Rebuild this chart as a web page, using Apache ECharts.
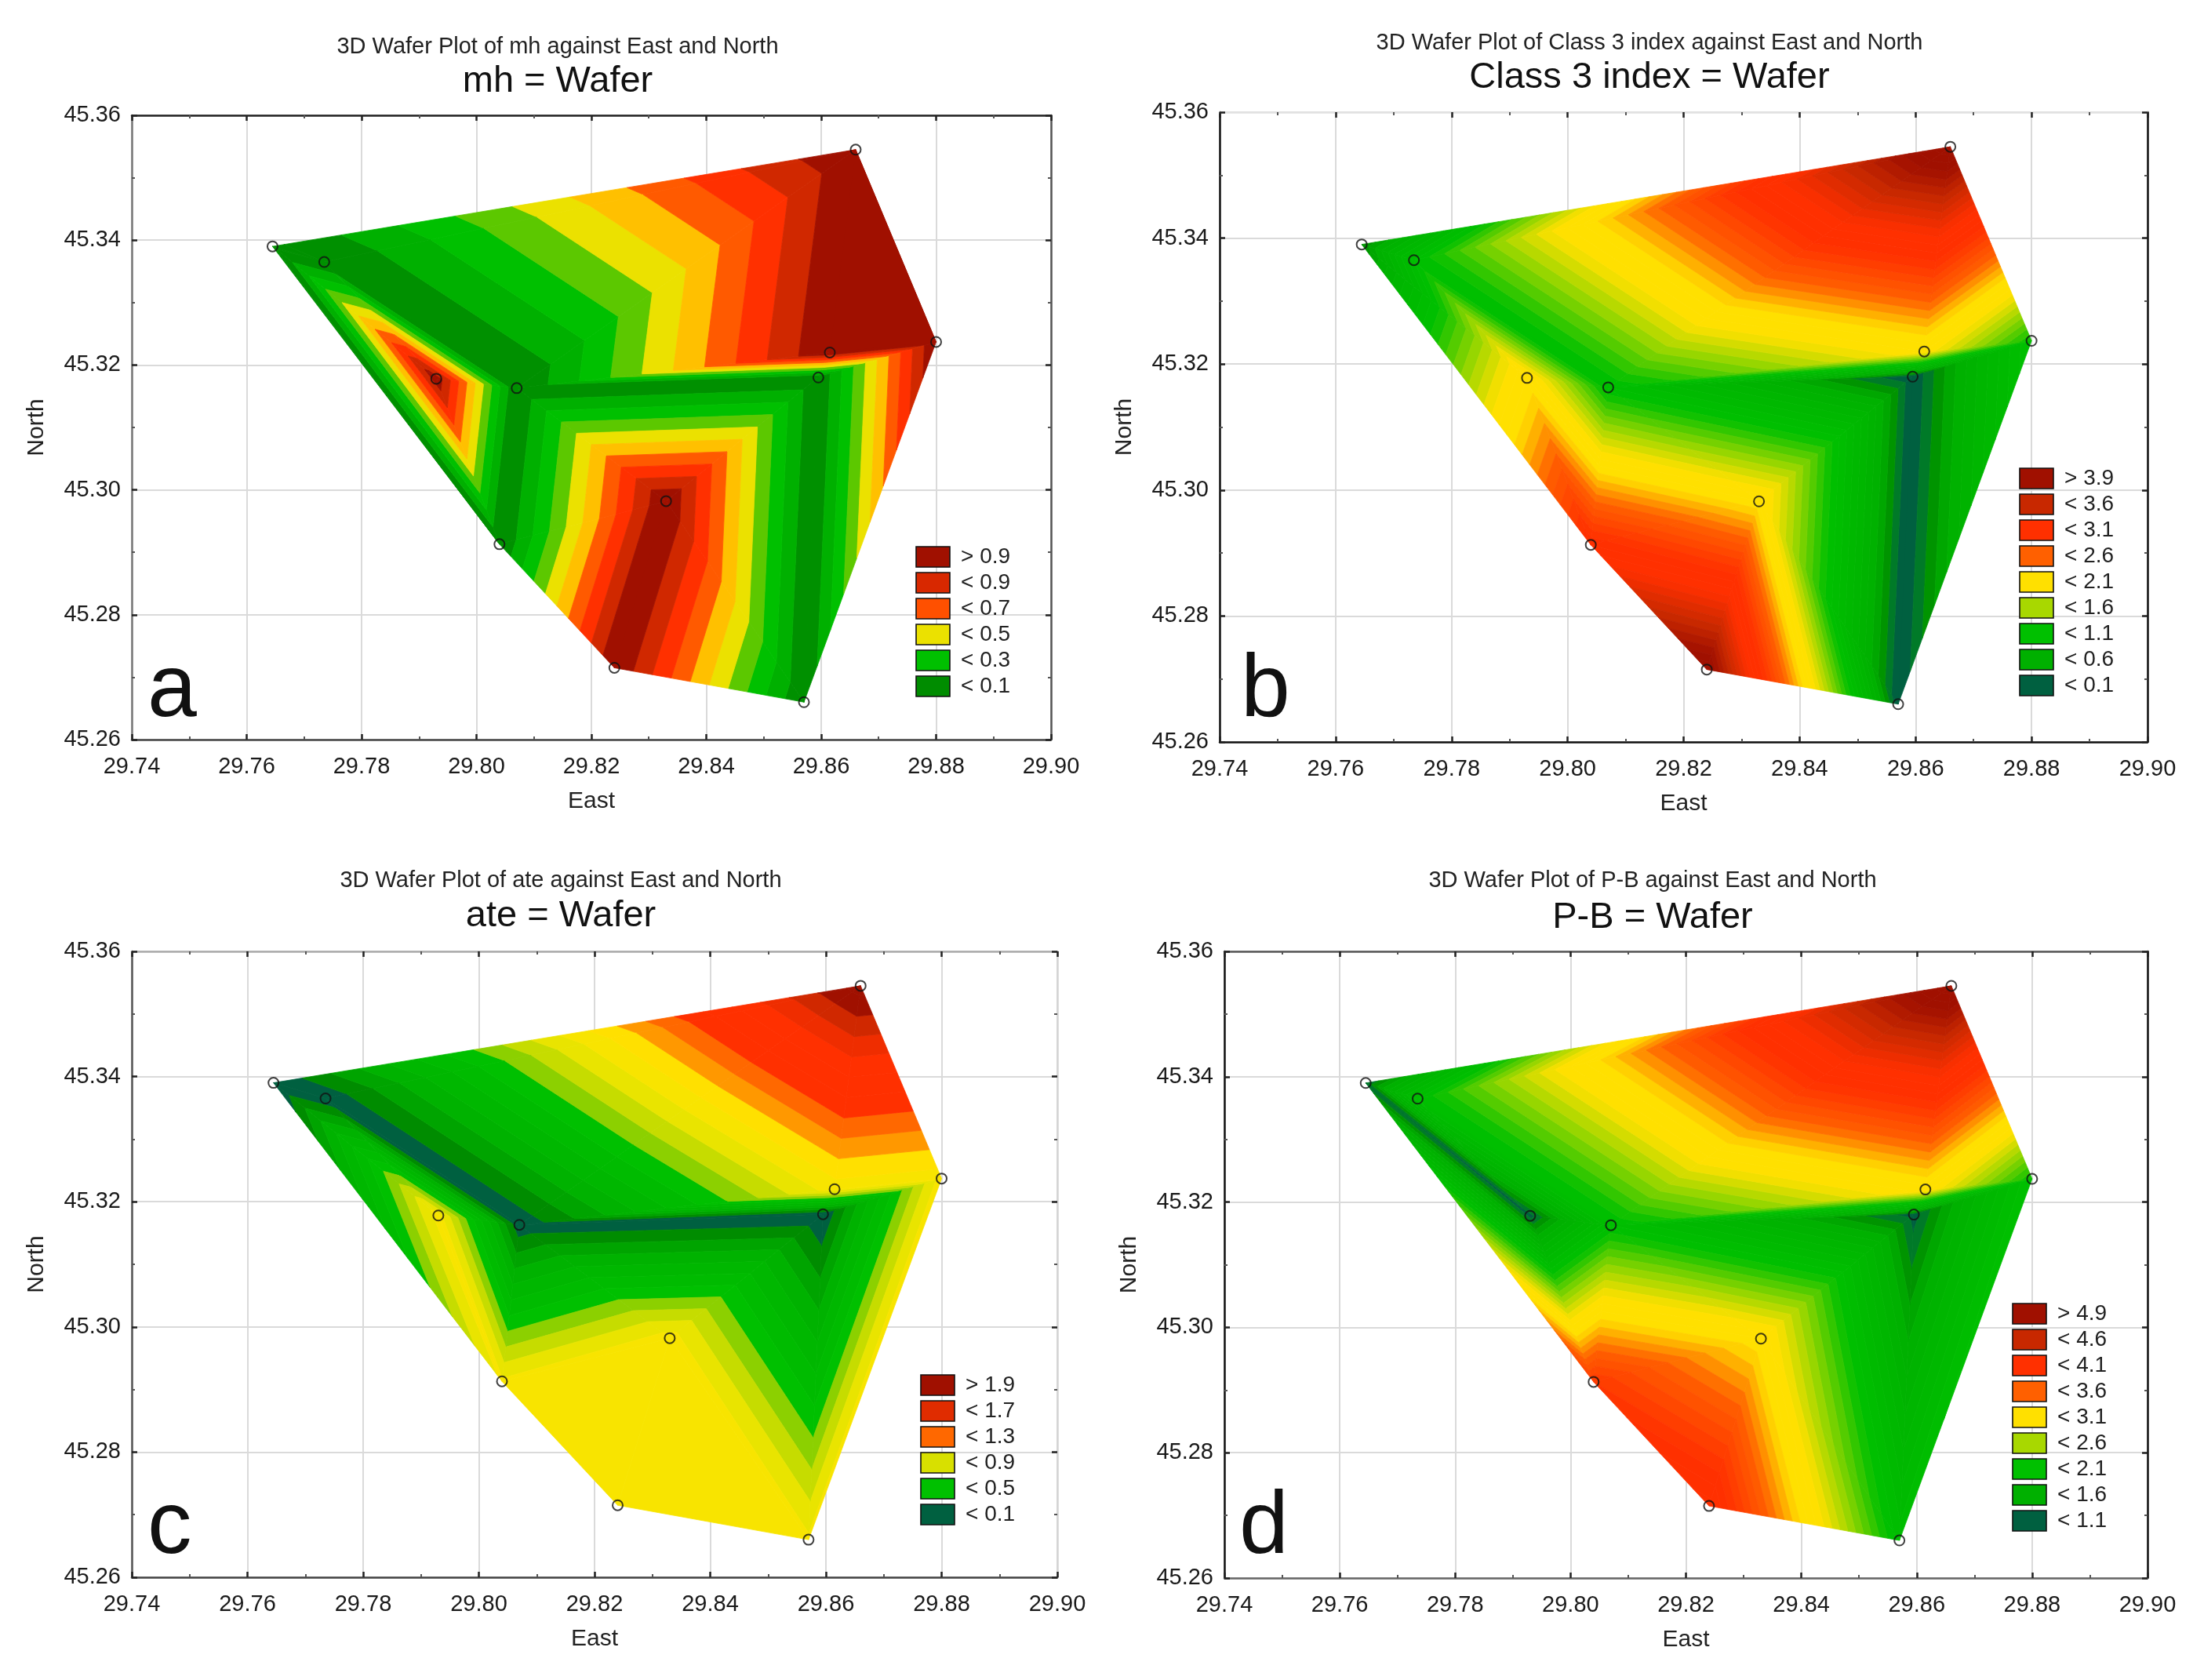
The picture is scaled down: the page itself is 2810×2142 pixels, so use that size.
<!DOCTYPE html>
<html>

<head>
	<meta charset="UTF-8" />
	<title>3D Wafer Plots</title>
	<style>
		html, body { margin: 0; padding: 0; background: #fff; }
		#main { width: 2810px; height: 2142px; }
	</style>
	<script type="text/javascript" src="https://cdn.jsdelivr.net/npm/echarts@6/dist/echarts.min.js"></script>
</head>

<body>
	<div id="main"></div>

	<script>
		// stations, in the order A..L
		var stationEast = [29.7645, 29.7735, 29.793, 29.807, 29.804, 29.824, 29.833, 29.857, 29.8595, 29.8615, 29.866, 29.88];
		var stationNorth = [45.339, 45.3365, 45.3178, 45.3163, 45.2913, 45.2715, 45.2982, 45.266, 45.318, 45.322, 45.3545, 45.3237];

		// triangulation (indices into the stations)
		var triangles = [
			[0, 1, 10], [1, 3, 10], [3, 9, 10], [9, 10, 11], [3, 8, 9], [8, 9, 11], [7, 8, 11], [6, 7, 8],
			[3, 6, 8], [3, 4, 6], [4, 5, 6], [5, 6, 7], [2, 3, 4], [0, 2, 4], [0, 1, 2], [1, 2, 3]
		];

		// station values per plot
		var mhValues = [-0.02, 0, 0.97, 0, 0, 1, 1, 0, 0, 1, 1, 1];
		var classValues = [0.2, 1, 2.1, 1, 3.2, 4.4, 2.1, 0, 0, 2, 4.5, 1.1];
		var ateValues = [0, 0.02, 1.05, 0.02, 1.02, 1.05, 1.05, 1.02, 0, 1.05, 2.05, 1.05];
		var pbValues = [1.1, 2, 1.05, 2, 4, 4.35, 3.1, 1.95, 1.05, 3.05, 5.5, 2.1];

		var bandStep = 0.1;

		// colour ramps: value -> colour
		var mhStops = [0.05, 0.15, 0.25, 0.35, 0.45, 0.55, 0.65, 0.75, 0.85, 0.95];
		var mhColors = ["#009000", "#00b000", "#00c000", "#5cc800", "#ebe100", "#ffc000", "#ff5a00", "#ff3000", "#d02800", "#a01000"];
		var classStops = [0.05, 0.15, 0.25, 0.4, 1.1, 1.6, 1.9, 2.2, 2.6, 3.1, 3.4, 3.85, 4.2];
		var classColors = ["#006040", "#007a28", "#009400", "#00b000", "#00c000", "#a8d800", "#ffe000", "#ffe000", "#ff6000", "#ff3000", "#ff3000", "#c82800", "#a01000"];
		var ateStops = [0.05, 0.15, 0.3, 0.65, 0.75, 0.88, 1.0, 1.15, 1.2, 1.28, 1.35, 1.45, 1.7, 1.85, 1.95];
		var ateColors = ["#006040", "#008c00", "#00b000", "#00c000", "#8cd000", "#d8e000", "#f5e600", "#ffe000", "#ffc000", "#ff8000", "#ff6800", "#ff3000", "#ff3000", "#d02800", "#a01000"];
		var pbStops = [1.05, 1.15, 1.25, 1.4, 2.1, 2.6, 2.9, 3.2, 3.6, 4.1, 4.4, 4.85, 5.2];
		var pbColors = classColors;

		// legends
		var mhLegend = ["> 0.9", "< 0.9", "< 0.7", "< 0.5", "< 0.3", "< 0.1"];
		var mhLegendColors = ["#a01000", "#d82800", "#ff5000", "#ebe100", "#00c000", "#008c00"];
		var classLegend = ["> 3.9", "< 3.6", "< 3.1", "< 2.6", "< 2.1", "< 1.6", "< 1.1", "< 0.6", "< 0.1"];
		var pbLegend = ["> 4.9", "< 4.6", "< 4.1", "< 3.6", "< 3.1", "< 2.6", "< 2.1", "< 1.6", "< 1.1"];
		var nineLegendColors = ["#a01000", "#c82800", "#ff3000", "#ff6000", "#ffe000", "#a8d800", "#00c000", "#00b000", "#006040"];
		var ateLegend = ["> 1.9", "< 1.7", "< 1.3", "< 0.9", "< 0.5", "< 0.1"];
		var ateLegendColors = ["#a01000", "#e02c00", "#ff6800", "#d8e000", "#00c000", "#006040"];

		var panels = [
			{
				letter: "a", sub: "3D Wafer Plot of mh against East and North", head: "mh = Wafer",
				values: mhValues, stops: mhStops, colors: mhColors, legend: mhLegend, legendColors: mhLegendColors,
				left: 168, top: 147, width: 1172, height: 796,
				frame: { bottom: "#444", top: "#222", left: "#777", right: "#555" },
				titleX: 706, subY: 55, headY: 102, swatchX: 1168, swatchY: 697, letterX: 188, letterY: 882
			},
			{
				letter: "b", sub: "3D Wafer Plot of Class 3 index against East and North", head: "Class 3 index = Wafer",
				values: classValues, stops: classStops, colors: classColors, legend: classLegend, legendColors: nineLegendColors,
				left: 1555, top: 143, width: 1183, height: 803,
				frame: { bottom: "#111", top: "#e2e2e2", left: "#111", right: "#111" },
				titleX: 2098, subY: 50, headY: 97, swatchX: 2575, swatchY: 597, letterX: 1582, letterY: 882
			},
			{
				letter: "c", sub: "3D Wafer Plot of ate against East and North", head: "ate = Wafer",
				values: ateValues, stops: ateStops, colors: ateColors, legend: ateLegend, legendColors: ateLegendColors,
				left: 168, top: 1213, width: 1180, height: 798,
				frame: { bottom: "#444", top: "#aaa", left: "#555", right: "#d4d4d4" },
				titleX: 710, subY: 1118, headY: 1166, swatchX: 1174, swatchY: 1753, letterX: 188, letterY: 1949
			},
			{
				letter: "d", sub: "3D Wafer Plot of P-B against East and North", head: "P-B = Wafer",
				values: pbValues, stops: pbStops, colors: pbColors, legend: pbLegend, legendColors: nineLegendColors,
				left: 1561, top: 1213, width: 1177, height: 799,
				frame: { bottom: "#666", top: "#555", left: "#111", right: "#111" },
				titleX: 2102, subY: 1118, headY: 1168, swatchX: 2566, swatchY: 1662, letterX: 1580, letterY: 1949
			}
		];

		var FONT = "Liberation Sans";
		var myChart = echarts.init(document.getElementById("main"));

		function hexToRgb(hex) {
			return [parseInt(hex.substr(1, 2), 16), parseInt(hex.substr(3, 2), 16), parseInt(hex.substr(5, 2), 16)];
		}

		// colour of a value on a ramp
		function rampColor(stops, colors, v) {
			if (v <= stops[0]) return colors[0];
			for (var i = 1; i < stops.length; i++) {
				if (v <= stops[i]) {
					var t = (v - stops[i - 1]) / (stops[i] - stops[i - 1]);
					var a = hexToRgb(colors[i - 1]);
					var b = hexToRgb(colors[i]);
					return "rgb(" + Math.round(a[0] + (b[0] - a[0]) * t) + "," + Math.round(a[1] + (b[1] - a[1]) * t) + "," + Math.round(a[2] + (b[2] - a[2]) * t) + ")";
				}
			}
			return colors[colors.length - 1];
		}

		// keep the part of a polygon on one side of a level; points are [east, north, value]
		function clipLevel(poly, level, keepAbove) {
			var out = [];
			for (var i = 0; i < poly.length; i++) {
				var p = poly[i];
				var q = poly[(i + 1) % poly.length];
				var pIn = keepAbove ? p[2] >= level : p[2] <= level;
				var qIn = keepAbove ? q[2] >= level : q[2] <= level;
				if (pIn) out.push(p);
				if (pIn !== qIn) {
					var t = (level - p[2]) / (q[2] - p[2]);
					out.push([p[0] + (q[0] - p[0]) * t, p[1] + (q[1] - p[1]) * t, level]);
				}
			}
			return out;
		}

		// one triangle cut into its contour bands
		function makeRenderItem(panel) {
			return function (params, api) {
				var tri = triangles[params.dataIndex];
				var poly = tri.map(function (k) {
					return [stationEast[k], stationNorth[k], panel.values[k]];
				});
				var vs = poly.map(function (p) { return p[2]; });
				var minV = Math.min.apply(null, vs);
				var maxV = Math.max.apply(null, vs);
				var children = [];
				// flat triangles (all stations on one value) still need their one band
				for (var k = Math.floor(minV / bandStep + 1e-9) - 1; k * bandStep <= maxV + 1e-9; k++) {
					var lo = k * bandStep;
					var part = clipLevel(clipLevel(poly, lo, true), lo + bandStep, false);
					if (part.length < 3) continue;
					var color = rampColor(panel.stops, panel.colors, lo + bandStep / 2);
					children.push({
						type: "polygon",
						shape: { points: part.map(function (p) { return api.coord([p[0], p[1]]); }) },
						style: { fill: color, stroke: color, lineWidth: 0.8 }
					});
				}
				return { type: "group", children: children };
			};
		}

		function makeAxis(gridIndex, isX, position, main, lineColor) {
			var axis = {
				type: "value",
				gridIndex: gridIndex,
				position: position,
				min: isX ? 29.74 : 45.26,
				max: isX ? 29.9 : 45.36,
				interval: 0.02,
				axisLine: { show: true, onZero: false, lineStyle: { color: lineColor, width: 2.5 } },
				axisTick: { show: true, inside: true, length: 7, lineStyle: { color: "#222", width: 2.5 } },
				minorTick: { show: true, splitNumber: 2, length: 4, lineStyle: { color: "#555", width: 2 } },
				splitLine: { show: main, lineStyle: { color: "#dadada", width: 2 } },
				axisLabel: {
					show: main,
					margin: isX ? 20 : 14,
					fontFamily: FONT,
					fontSize: 29,
					color: "#1a1a1a",
					showMinLabel: true,
					showMaxLabel: true,
					formatter: function (v) { return v.toFixed(2); }
				}
			};
			if (main) {
				axis.name = isX ? "East" : "North";
				axis.nameLocation = "middle";
				axis.nameGap = isX ? 64 : 106;
				axis.nameTextStyle = { fontFamily: FONT, fontSize: 30, color: "#222" };
			}
			return axis;
		}

		var grids = [], xAxes = [], yAxes = [], titles = [], series = [], graphics = [];

		panels.forEach(function (panel, i) {
			grids.push({ left: panel.left, top: panel.top, width: panel.width, height: panel.height, containLabel: false });
			xAxes.push(makeAxis(i, true, "bottom", true, panel.frame.bottom), makeAxis(i, true, "top", false, panel.frame.top));
			yAxes.push(makeAxis(i, false, "left", true, panel.frame.left), makeAxis(i, false, "right", false, panel.frame.right));

			titles.push({
				text: panel.sub, left: panel.titleX, top: panel.subY - 15, textAlign: "center",
				textStyle: { fontFamily: FONT, fontSize: 29, fontWeight: "normal", color: "#222" }
			});
			titles.push({
				text: panel.head, left: panel.titleX, top: panel.headY - 26, textAlign: "center",
				textStyle: { fontFamily: FONT, fontSize: 47, fontWeight: "normal", color: "#111" }
			});

			series.push({
				type: "custom",
				xAxisIndex: i * 2,
				yAxisIndex: i * 2,
				coordinateSystem: "cartesian2d",
				silent: true,
				animation: false,
				z: 2,
				data: triangles.map(function (t) { return [stationEast[t[0]], stationNorth[t[0]]]; }),
				renderItem: makeRenderItem(panel)
			});
			series.push({
				type: "scatter",
				xAxisIndex: i * 2,
				yAxisIndex: i * 2,
				silent: true,
				animation: false,
				z: 3,
				symbol: "circle",
				symbolSize: 13,
				itemStyle: { color: "rgba(255,255,255,0)", borderColor: "#111", borderWidth: 2 },
				data: stationEast.map(function (e, k) { return [e, stationNorth[k]]; })
			});

			graphics.push({
				type: "text",
				x: panel.letterX,
				y: panel.letterY,
				z: 5,
				style: { text: panel.letter, fontFamily: FONT, fontSize: 113, fill: "#111", textVerticalAlign: "middle" }
			});
			panel.legend.forEach(function (label, k) {
				var y = panel.swatchY + k * 33;
				graphics.push({
					type: "rect",
					z: 5,
					shape: { x: panel.swatchX, y: y, width: 43, height: 26 },
					style: { fill: panel.legendColors[k], stroke: "#111", lineWidth: 1.6 }
				});
				graphics.push({
					type: "text",
					z: 5,
					x: panel.swatchX + 57,
					y: y + 13,
					style: { text: label, fontFamily: FONT, fontSize: 28, fill: "#222", textVerticalAlign: "middle" }
				});
			});
		});

		myChart.setOption({
			animation: false,
			backgroundColor: "#fff",
			title: titles,
			grid: grids,
			xAxis: xAxes,
			yAxis: yAxes,
			series: series,
			graphic: graphics
		});
	</script>
</body>

</html>
